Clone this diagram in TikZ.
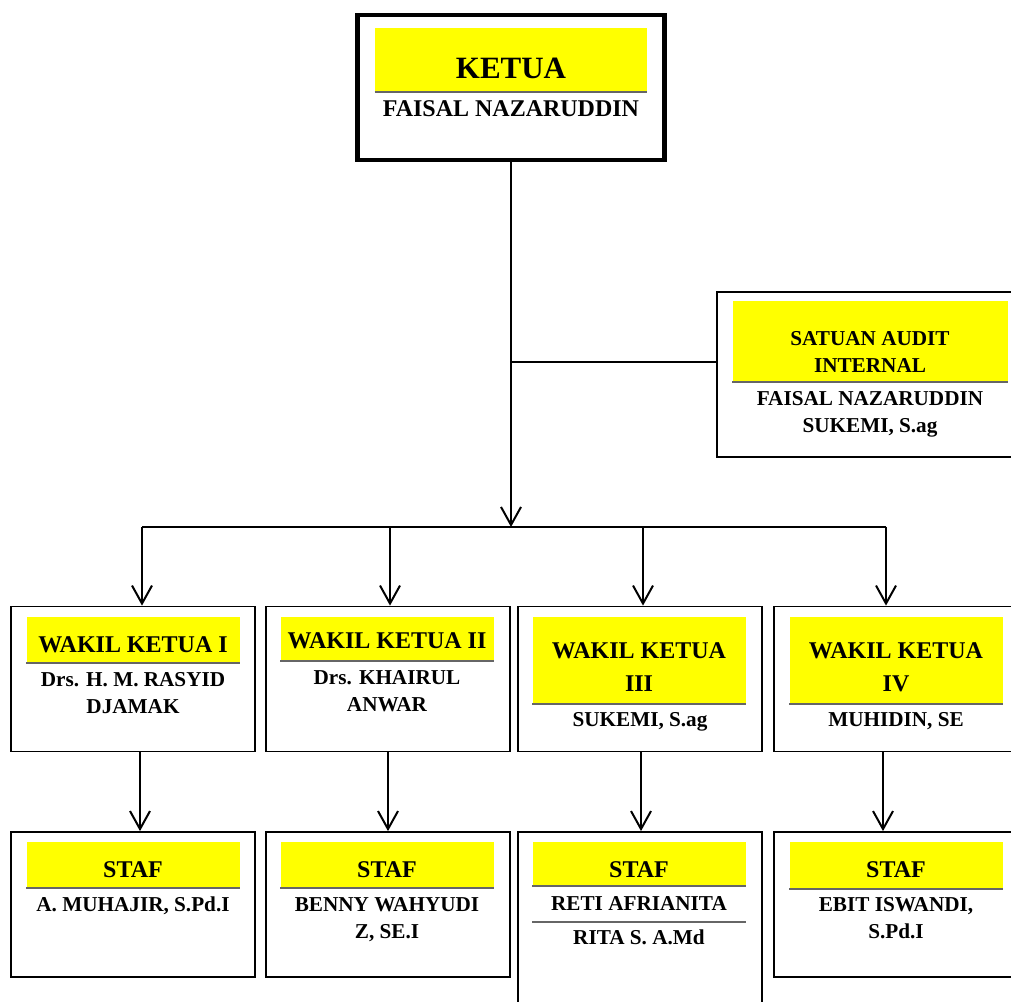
\documentclass[tikz,border=0pt]{standalone}
\usepackage{fontspec}
\setmainfont{Liberation Serif}
\usetikzlibrary{arrows.meta, calc, positioning}
\definecolor{bandyellow}{RGB}{255, 255, 0}

\tikzset{
    unitbox/.style={draw, line width=0.9pt, minimum width=122pt, minimum height=72.5pt, inner sep=0pt},
    band/.style={fill=bandyellow, inner sep=0pt, minimum width=106.5pt,
        append after command={(\tikzlastnode.south west) edge[draw=black!60, line width=1pt] (\tikzlastnode.south east)}},
    posttitle/.style={font=\bfseries\fontsize{12}{16.5}\selectfont, align=center, anchor=base, inner sep=0pt},
    holder/.style={font=\bfseries\fontsize{10.6}{13.5}\selectfont, align=center, anchor=base, inner sep=0pt},
    link/.style={line width=1pt},
    arrow/.style={link, -{Straight Barb[length=9pt, width=10pt]}},
}

\begin{document}
\begin{tikzpicture}[x=0.5pt, y=-0.5pt]
    \useasboundingbox (0,0) rectangle (1011,1001);
    \clip (0,0) rectangle (1011,1001);

    % boxes
    \node[draw, line width=2.2pt, minimum width=153.5pt, minimum height=72.5pt] (ketua) at (511,87.5) {};
    \node[unitbox, minimum width=153pt, minimum height=82.5pt] (audit) at (870,374.5) {};
    \node[unitbox] (w1) at (133,679) {};
    \node[unitbox] (w2) at (388,679) {};
    \node[unitbox] (w3) at (640,679) {};
    \node[unitbox] (w4) at (896,679) {};
    \node[unitbox] (s1) at (133,904.5) {};
    \node[unitbox] (s2) at (388,904.5) {};
    \node[unitbox, minimum height=100pt] (s3) at (640,932) {};
    \node[unitbox] (s4) at (896,904.5) {};

    % yellow bands
    \node[band, minimum width=136pt, minimum height=32pt] (ketuaband) at (511,60) {};
    \node[band, minimum width=137.5pt, minimum height=40.5pt] (auditband) at (870,341.5) {};
    \node[band, minimum height=23pt] (w1band) at (133,640) {};
    \node[band, minimum height=22pt] (w2band) at (387,639) {};
    \node[band, minimum height=43.5pt] (w3band) at (639,660.5) {};
    \node[band, minimum height=43.5pt] (w4band) at (896,660.5) {};
    \node[band, minimum height=23pt] (s1band) at (133,865) {};
    \node[band, minimum height=23pt] (s2band) at (387,865) {};
    \node[band, minimum height=22pt] (s3band) at (639,864) {};
    \node[band, minimum height=23.5pt] (s4band) at (896,865.5) {};

    % texts (base = last line)
    \node[posttitle, font=\bfseries\fontsize{15.5}{18}\selectfont] (ketuatitle) at (511,78) {KETUA};
    \node[posttitle] (ketuaname) at (511,116) {FAISAL NAZARUDDIN};
    \node[holder] (audittitle) at (870,372) {SATUAN AUDIT\\INTERNAL};
    \node[holder] (auditname) at (870,432) {FAISAL NAZARUDDIN\\SUKEMI, S.ag};
    \node[posttitle] (w1title) at (133,652) {WAKIL KETUA I};
    \node[holder] (w1name) at (133,713) {Drs. H. M. RASYID\\DJAMAK};
    \node[posttitle] (w2title) at (387,648) {WAKIL KETUA II};
    \node[holder] (w2name) at (387,711) {Drs. KHAIRUL\\ANWAR};
    \node[posttitle] (w3title) at (639,691) {WAKIL KETUA\\III};
    \node[holder] (w3name) at (640,726) {SUKEMI, S.ag};
    \node[posttitle] (w4title) at (896,691) {WAKIL KETUA\\IV};
    \node[holder] (w4name) at (896,726) {MUHIDIN, SE};
    \node[posttitle] (s1title) at (133,877) {STAF};
    \node[holder] (s1name) at (133,911) {A. MUHAJIR, S.Pd.I};
    \node[posttitle] (s2title) at (387,877) {STAF};
    \node[holder] (s2name) at (387,938) {BENNY WAHYUDI\\Z, SE.I};
    \node[posttitle] (s3title) at (639,877) {STAF};
    \node[holder] (s3name) at (639,910) {RETI AFRIANITA};
    \node[holder] (s3name2) at (639,944) {RITA S. A.Md};
    \node[posttitle] (s4title) at (896,877) {STAF};
    \node[holder] (s4name) at (896,938) {EBIT ISWANDI,\\S.Pd.I};
    \draw[draw=black!60, line width=1pt] (s3band.west |- 0,922) -- (s3band.east |- 0,922);

    % connectors
    \coordinate (bus) at (511,527);
    \coordinate (tap) at (511,362);
    \coordinate (busL) at ($(w1.north)+(9,-79)$);
    \coordinate (busR) at ($(w4.north)+(-10,-79)$);
    \draw[arrow] (ketua.south) -- (bus);
    \draw[link] (tap) -- (tap -| audit.west);
    \draw[link] (busL) -- (busR);
    \foreach \n/\dx in {1/9, 2/2, 3/3, 4/-10}
        \draw[arrow] ($(w\n.north)+(\dx,-79)$) -- ($(w\n.north)+(\dx,0)$);
    \foreach \n/\dx in {1/7, 2/0, 3/1, 4/-13}
        \draw[arrow] ($(w\n.south)+(\dx,0)$) -- ($(s\n.north)+(\dx,0)$);
\end{tikzpicture}
\end{document}
